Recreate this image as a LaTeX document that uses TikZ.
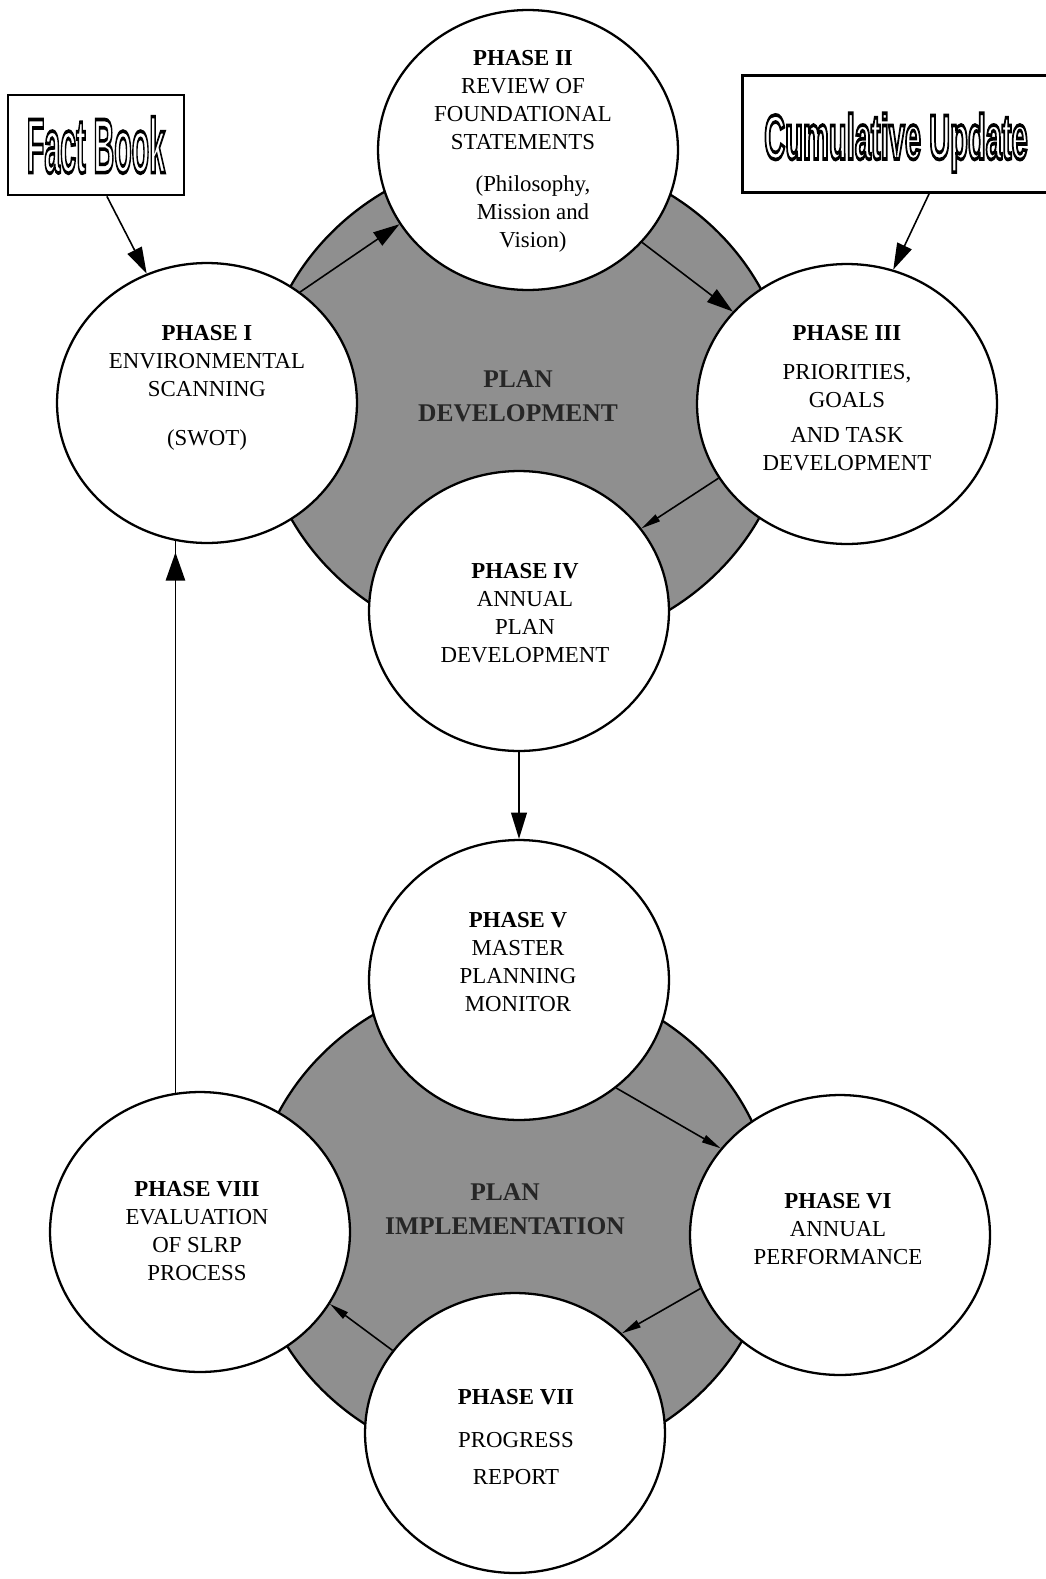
\documentclass[tikz,border=0pt]{standalone}
\usepackage{fontspec}
\setmainfont{Liberation Serif}
\newfontfamily\boxfont{Liberation Sans}
\usepackage{graphicx}
\usetikzlibrary{arrows.meta,shapes.geometric,decorations.markings}

% hollow letters: stroke only
\newcommand{\outlined}[1]{\special{pdf:literal 1 Tr 2.1 w}#1\special{pdf:literal 0 Tr}}

\begin{document}
\begin{tikzpicture}[x=0.02cm,y=-0.02cm,
    phase/.style={draw,line width=1.3pt,fill=white,ellipse,minimum width=6cm,minimum height=5.6cm,inner sep=0pt},
    phasetext/.style={align=center,font=\fontsize{13}{16}\selectfont},
    srcbox/.style={draw,line width=1.6pt,inner sep=0pt},
    zone/.style={draw,line width=1.3pt,fill=black!44},
    zonetext/.style={align=center,font=\fontsize{14.5}{19.5}\selectfont\bfseries,text=black!85},
    flow/.style={line width=0.9pt,-{Triangle[length=15pt,width=9pt]}},
    slim/.style={line width=0.9pt,-{Triangle[length=11pt,width=4.5pt]}}]
    \useasboundingbox (0,0) rectangle (1045,1579);

    % shaded zones
    \draw[zone] (525,402) ellipse [x radius=5.3cm,y radius=4.96cm];
    \draw[zone] (513,1222) ellipse [x radius=5.24cm,y radius=4.9cm];
    \node[zonetext] (dev) at (518,396) {PLAN\\DEVELOPMENT};
    \node[zonetext] (impl) at (505,1209) {PLAN\\IMPLEMENTATION};

    % sources
    \node[srcbox,minimum width=3.52cm,minimum height=2cm] (fact) at (96,145)
        {\scalebox{0.37}[1]{\fontsize{44}{44}\selectfont\boxfont\bfseries\outlined{Fact Book}}};
    \node[srcbox,line width=1.4pt,minimum width=6.14cm,minimum height=2.34cm] (cumul) at (896,134)
        {\raisebox{-0.5cm}[0pt][0pt]{\scalebox{0.46}[1]{\fontsize{36}{36}\selectfont\boxfont\bfseries\outlined{Cumulative Update}}}};

    % phases
    \node[phase] (p1) at (207,403) {};
    \node[phase] (p2) at (528,150) {};
    \node[phase] (p3) at (847,404) {};
    \node[phase] (p4) at (519,611) {};
    \node[phase] (p5) at (519,980) {};
    \node[phase] (p6) at (840,1235) {};
    \node[phase] (p7) at (515,1433) {};
    \node[phase] (p8) at (200,1232) {};

    \node[phasetext] (t1) at (207,388) {\textbf{PHASE I}\\ENVIRONMENTAL\\SCANNING\\[12pt](SWOT)};
    \node[phasetext] (t2) at (523,100) {\textbf{PHASE II}\\REVIEW OF\\FOUNDATIONAL\\STATEMENTS};
    \node[phasetext] (t2b) at (533,214) {(Philosophy,\\Mission and\\Vision)};
    \node[phasetext] (t3) at (847,398) {\textbf{PHASE III}\\[6pt]PRIORITIES,\\GOALS\\[4pt]AND TASK\\DEVELOPMENT};
    \node[phasetext] (t4) at (525,613) {\textbf{PHASE IV}\\ANNUAL\\PLAN\\DEVELOPMENT};
    \node[phasetext] (t5) at (518,962) {\textbf{PHASE V}\\MASTER\\PLANNING\\MONITOR};
    \node[phasetext] (t6) at (838,1229) {\textbf{PHASE VI}\\ANNUAL\\PERFORMANCE};
    \node[phasetext] (t7) at (516,1437) {\textbf{PHASE VII}\\[8pt]PROGRESS\\[5pt]REPORT};
    \node[phasetext] (t8) at (197,1231) {\textbf{PHASE VIII}\\EVALUATION\\OF SLRP\\PROCESS};

    % connectors
    \draw[flow] (fact.-78) -- (p1.115);
    \draw[flow] (cumul.-61) -- (p3.71);
    \draw[flow] (p1.50) -- (p2.210);
    \draw[flow] (p2.-39) -- (p3.141);
    \draw[slim] (p3.210) -- (p4.34);
    \draw[flow] (p4.south) -- (p5.north);
    \draw[slim] (p5.-48) -- (p6.144);
    \draw[slim] (p6.201) -- (p7.43);
    \draw[slim] (p7.146) -- (p8.-29);
    \draw[line width=0.9pt,decoration={markings,mark=at position -0.24cm with {\arrow{Triangle[length=16pt,width=11pt]}}},postaction={decorate}]
        (p8.100) -- (p8.100 |- p1.256);
\end{tikzpicture}
\end{document}
